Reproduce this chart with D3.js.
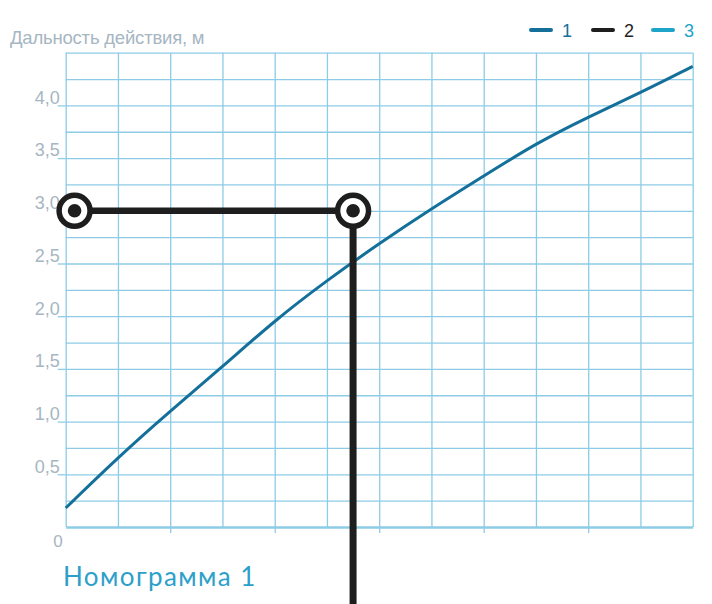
<!DOCTYPE html>
<html lang="ru">
<head>
  <meta charset="UTF-8">
  <title>Номограмма 1</title>
  <style type="text/css">
    body { margin: 0; background: #fff; }
    svg { display: block; }
    .lbl { font-family: "Liberation Sans", Arial, sans-serif; fill: #a6b6c2; }
  </style>
</head>
<body>
  <svg id="chart" width="712" height="604"></svg>

<script src="https://cdn.jsdelivr.net/npm/d3@7/dist/d3.min.js"></script>
<script>
  // x: делений по горизонтали, y: дальность действия, м
  const xSteps = [0, 1, 2, 3, 4, 5, 6, 7, 8, 9, 10, 11, 12]
  const range1 = [0.18, 0.66, 1.10, 1.52, 1.96, 2.34, 2.69, 3.02, 3.33, 3.64, 3.89, 4.12, 4.37]
  const yTicks = [0.5, 1.0, 1.5, 2.0, 2.5, 3.0, 3.5, 4.0]
  const xTicks = [2, 4, 6, 8, 10]
  // пример чтения номограммы (линия 2)
  const guideX = [0.17, 5.5]
  const guideY = 3.0
  const guideBottom = -0.75
  const legendNames = ['1', '2', '3']
  const legendColors = ['#14709a', '#1e1e1e', '#1ea3c9']

  const svg = d3.select('#chart')
  const x = d3.scaleLinear().domain([0, 12]).range([65.7, 692.7])
  const y = d3.scaleLinear().domain([0, 4.5]).range([527, 52.7])
  const gridColor = '#8ecbe6'

  // сетка
  const gridY = d3.range(0.25, 4.51, 0.25)
  svg.append('g')
    .attr('transform', 'translate(' + x(0) + ',0)')
    .call(d3.axisLeft(y).tickValues(gridY).tickSize(-(x(12) - x(0))).tickFormat(''))
    .call(g => g.select('.domain').remove())
    .call(g => g.selectAll('line').attr('stroke', gridColor).attr('stroke-width', 1.3))

  svg.append('g')
    .attr('transform', 'translate(0,' + y(0) + ')')
    .call(d3.axisBottom(x).tickValues(xSteps).tickSize(-(y(0) - y(4.5))).tickFormat(''))
    .call(g => g.select('.domain').remove())
    .call(g => g.selectAll('line').attr('stroke', gridColor).attr('stroke-width', 1.3))

  // ось X
  svg.append('g')
    .attr('transform', 'translate(0,' + y(0) + ')')
    .call(d3.axisBottom(x).tickValues(xTicks).tickSize(6).tickSizeOuter(0).tickFormat(''))
    .call(g => g.select('.domain').attr('stroke', gridColor).attr('stroke-width', 2.6))
    .call(g => g.selectAll('line').attr('stroke', gridColor).attr('stroke-width', 1.3))

  // ось Y: подписи над линиями
  const yAxis = svg.append('g')
    .attr('transform', 'translate(' + x(0) + ',0)')
    .call(d3.axisLeft(y).tickValues(yTicks).tickSize(8).tickFormat(d => d3.format('.1f')(d).replace('.', ',')))
    .call(g => g.select('.domain').remove())
    .call(g => g.selectAll('line').attr('stroke', gridColor).attr('stroke-width', 1.3))
  yAxis.selectAll('text')
    .attr('class', 'lbl')
    .attr('x', -6)
    .attr('dy', '-0.12em')
    .style('font-size', '18px')

  svg.append('text').attr('class', 'lbl')
    .attr('x', 58).attr('y', 547)
    .attr('text-anchor', 'middle')
    .style('font-size', '17px')
    .text('0')

  svg.append('text').attr('class', 'lbl')
    .attr('x', 10).attr('y', 44)
    .style('font-size', '18.5px')
    .style('letter-spacing', '-0.2px')
    .text('Дальность действия, м')

  // кривая 1
  const line = d3.line()
    .x((d, i) => x(xSteps[i]))
    .y(d => y(d))
    .curve(d3.curveBasis)
  svg.append('path')
    .datum(range1)
    .attr('d', line)
    .attr('fill', 'none')
    .attr('stroke', legendColors[0])
    .attr('stroke-width', 3)

  // линия 2
  const black = legendColors[1]
  svg.append('line')
    .attr('x1', x(guideX[0])).attr('y1', y(guideY))
    .attr('x2', x(guideX[1])).attr('y2', y(guideY))
    .attr('stroke', black).attr('stroke-width', 6.5)
  svg.append('line')
    .attr('x1', x(guideX[1])).attr('y1', y(guideY))
    .attr('x2', x(guideX[1])).attr('y2', y(guideBottom))
    .attr('stroke', black).attr('stroke-width', 7)

  const marks = svg.selectAll('g.mark')
    .data(guideX)
    .join('g')
    .attr('class', 'mark')
    .attr('transform', d => 'translate(' + x(d) + ',' + y(guideY) + ')')
  marks.append('circle').attr('r', 15.5)
    .attr('fill', '#fff').attr('stroke', black).attr('stroke-width', 5.5)
  marks.append('circle').attr('r', 6.8).attr('fill', black)

  // легенда
  const legendX = [531, 593, 653]
  const legend = svg.selectAll('g.leg')
    .data(legendNames)
    .join('g')
    .attr('class', 'leg')
    .attr('transform', (d, i) => 'translate(' + legendX[i] + ',30)')
  legend.append('line')
    .attr('x1', 0).attr('x2', 20)
    .attr('stroke', (d, i) => legendColors[i])
    .attr('stroke-width', 4)
    .attr('stroke-linecap', 'round')
  legend.append('text')
    .attr('x', 31).attr('y', 6.5)
    .style('font-family', '"Liberation Sans", Arial, sans-serif')
    .style('font-size', '18px')
    .attr('fill', (d, i) => legendColors[i])
    .text(d => d)

  // заголовок
  svg.append('text')
    .attr('x', 63).attr('y', 586)
    .style('font-family', 'Lato, "Open Sans", sans-serif')
    .style('font-size', '26px')
    .style('letter-spacing', '1.4px')
    .attr('fill', '#2c9fca')
    .text('Номограмма 1')
</script>
</body>
</html>
